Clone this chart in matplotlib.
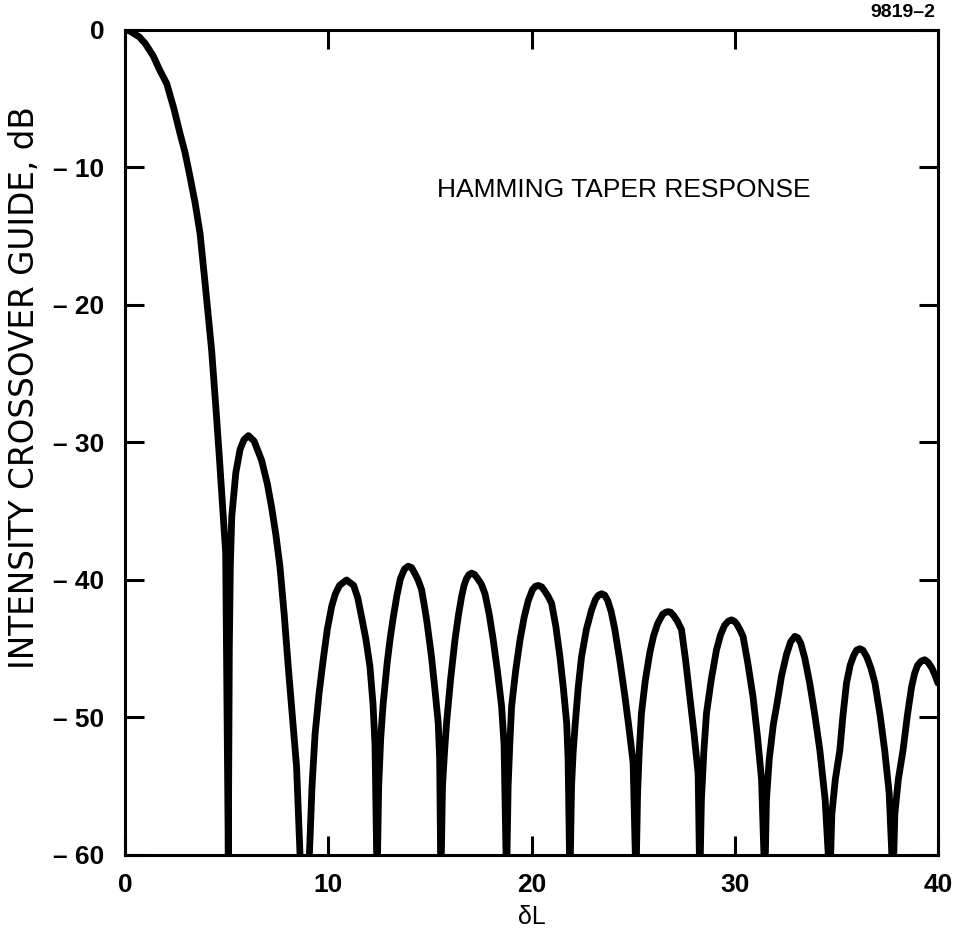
import matplotlib
matplotlib.use("Agg")
import matplotlib.pyplot as plt

# ---- data (delta L, dB) ----
main_x = [0.0, 0.2, 0.41, 0.7, 1.0, 1.39, 1.7, 2.05, 2.4, 2.7, 2.95, 3.2, 3.45, 3.69,
          3.95, 4.26, 4.5, 4.65, 4.8, 4.95, 5.08]
main_y = [0.0, -0.05, -0.24, -0.5, -1.0, -1.9, -2.9, -3.9, -5.7, -7.5, -8.9, -10.7, -12.6, -14.8,
          -18.6, -23.3, -28.1, -31.3, -34.7, -38.0, -60.0]

lobe1_x = [5.08, 5.13, 5.18, 5.25, 5.45, 5.66, 5.85, 6.07, 6.35, 6.72, 7.0, 7.21, 7.42,
           7.62, 7.83, 8.03, 8.24, 8.44, 8.61, 8.84]
lobe1_y = [-60.0, -45.0, -39.0, -35.4, -32.2, -30.5, -29.8, -29.5, -29.9, -31.3, -33.0, -34.7, -36.7,
           -39.0, -42.5, -46.3, -50.0, -53.6, -60.0, -80.0]

lobe2_x = [9.07, 9.2, 9.35, 9.55, 9.75, 9.95, 10.17, 10.35, 10.55, 10.9, 11.25, 11.45,
           11.64, 11.85, 12.05, 12.2, 12.3, 12.4]
lobe2_y = [-60.0, -55.0, -51.2, -48.2, -45.8, -43.6, -41.9, -41.0, -40.4, -40.0, -40.4, -41.3,
           -42.7, -44.3, -46.3, -49.0, -52.0, -62.0]

lobe3_x = [12.48, 12.58, 12.7, 12.9, 13.05, 13.2, 13.38, 13.55, 13.75, 13.93, 14.1, 14.25,
           14.42, 14.59, 14.72, 14.85, 15.08, 15.25, 15.41, 15.48, 15.54]
lobe3_y = [-55.0, -51.5, -49.0, -46.0, -44.2, -42.7, -41.1, -39.9, -39.2, -39.0, -39.1, -39.5,
           -40.0, -40.7, -41.8, -43.0, -45.6, -48.0, -50.4, -53.0, -62.0]

lobe4_x = [15.62, 15.72, 15.82, 16.02, 16.23, 16.4, 16.56, 16.68, 16.8, 16.93, 17.05, 17.2,
           17.35, 17.53, 17.71, 17.92, 18.12, 18.33, 18.53, 18.65, 18.77]
lobe4_y = [-55.0, -52.5, -50.4, -47.2, -44.4, -42.6, -41.2, -40.4, -39.9, -39.6, -39.5, -39.6,
           -39.9, -40.3, -41.0, -42.5, -44.4, -46.7, -49.2, -52.0, -62.0]

lobe5_x = [18.85, 18.93, 19.02, 19.22, 19.43, 19.64, 19.84, 20.05, 20.2, 20.33, 20.5, 20.65,
           20.82, 20.99, 21.2, 21.4, 21.57, 21.73, 21.8, 21.89]
lobe5_y = [-55.0, -52.0, -49.2, -46.6, -44.4, -42.7, -41.5, -40.7, -40.45, -40.4, -40.5, -40.8,
           -41.2, -41.7, -43.4, -45.6, -47.9, -50.4, -53.0, -62.0]

lobe6_x = [21.97, 22.05, 22.15, 22.3, 22.46, 22.7, 22.95, 23.15, 23.3, 23.45, 23.6, 23.75,
           23.92, 24.1, 24.35, 24.6, 24.8, 25.0, 25.14]
lobe6_y = [-55.0, -52.5, -50.5, -47.8, -45.6, -43.6, -42.2, -41.4, -41.1, -41.0, -41.1, -41.5,
           -42.3, -43.6, -45.9, -48.5, -50.8, -53.3, -62.0]

lobe7_x = [25.22, 25.3, 25.41, 25.6, 25.82, 26.0, 26.2, 26.45, 26.6, 26.72, 26.85, 27.0,
           27.18, 27.38, 27.58, 27.79, 28.0, 28.2, 28.28]
lobe7_y = [-55.5, -52.5, -49.7, -47.3, -45.3, -44.1, -43.2, -42.5, -42.35, -42.3, -42.35, -42.6,
           -43.0, -43.6, -45.8, -48.5, -51.2, -54.1, -62.0]

lobe8_x = [28.36, 28.48, 28.61, 28.85, 29.1, 29.3, 29.5, 29.68, 29.84, 29.98, 30.1, 30.25,
           30.41, 30.65, 30.9, 31.12, 31.32, 31.48]
lobe8_y = [-56.0, -52.5, -49.7, -47.2, -45.1, -44.0, -43.3, -43.0, -42.9, -43.0, -43.2, -43.6,
           -44.1, -46.1, -48.5, -51.4, -54.5, -62.0]

lobe9_x = [31.56, 31.7, 31.9, 32.08, 32.3, 32.55, 32.75, 32.96, 33.1, 33.25, 33.45, 33.69,
           33.94, 34.19, 34.45, 34.68]
lobe9_y = [-56.0, -53.0, -50.5, -49.0, -47.0, -45.4, -44.5, -44.1, -44.2, -44.6, -45.7, -47.5,
           -49.8, -52.4, -56.0, -62.0]

lobe10_x = [34.78, 34.95, 35.17, 35.33, 35.5, 35.68, 35.85, 36.0, 36.15, 36.3, 36.5, 36.7,
            36.9, 37.15, 37.38, 37.6, 37.79]
lobe10_y = [-57.0, -54.5, -52.4, -49.8, -47.5, -46.2, -45.5, -45.1, -45.0, -45.1, -45.6, -46.4,
            -47.5, -49.8, -52.4, -55.5, -62.0]

lobe11_x = [37.88, 38.05, 38.28, 38.5, 38.7, 38.85, 39.0, 39.18, 39.35, 39.52, 39.7, 39.85, 40.0]
lobe11_y = [-57.0, -54.5, -52.4, -49.8, -47.8, -46.8, -46.2, -45.9, -45.8, -46.0, -46.4, -46.9, -47.5]

x_ticks = [0, 10, 20, 30, 40]
y_ticks = [0, -10, -20, -30, -40, -50, -60]
y_tick_labels = ["0", "– 10", "– 20", "– 30", "– 40", "– 50", "– 60"]

xs = (main_x + lobe1_x + lobe2_x + lobe3_x + lobe4_x + lobe5_x + lobe6_x
      + lobe7_x + lobe8_x + lobe9_x + lobe10_x + lobe11_x)
ys = (main_y + lobe1_y + lobe2_y + lobe3_y + lobe4_y + lobe5_y + lobe6_y
      + lobe7_y + lobe8_y + lobe9_y + lobe10_y + lobe11_y)

plt.rcParams['font.family'] = ['Liberation Sans', 'DejaVu Sans']

fig = plt.figure(figsize=(9.62, 9.34), dpi=100)
ax = fig.add_axes([0.13, 0.0846, 0.845, 0.8833])

ax.plot(xs, ys, color='black', linewidth=4.9, solid_joinstyle='round',
        solid_capstyle='round', clip_on=True)

ax.set_xlim(0, 40)
ax.set_ylim(-60, 0)
ax.set_xticks(x_ticks)
ax.set_xticklabels([str(v) for v in x_ticks], fontsize=19, fontweight='bold')
ax.set_yticks(y_ticks)
ax.set_yticklabels(y_tick_labels, fontsize=19, fontweight='bold')

ax.tick_params(axis='x', pad=13)
ax.tick_params(axis='y', pad=15)
ax.tick_params(axis='both', direction='in', length=14, width=2.2,
               top=True, right=True)
for s in ax.spines.values():
    s.set_linewidth(2.2)

ax.set_xlabel("δL", fontsize=18, labelpad=6)
ax.set_ylabel("INTENSITY CROSSOVER GUIDE, dB", fontsize=23.5,
              family=['DejaVu Sans'])
ax.yaxis.set_label_coords(-0.104, 0.566)

ax.text(0.384, 0.806, "HAMMING TAPER RESPONSE", transform=ax.transAxes,
        fontsize=19, ha='left', va='center')
fig.text(0.972, 0.987, "9819–2", fontsize=14, fontweight='bold',
         ha='right', va='center')

fig.savefig("out.png", dpi=100)
